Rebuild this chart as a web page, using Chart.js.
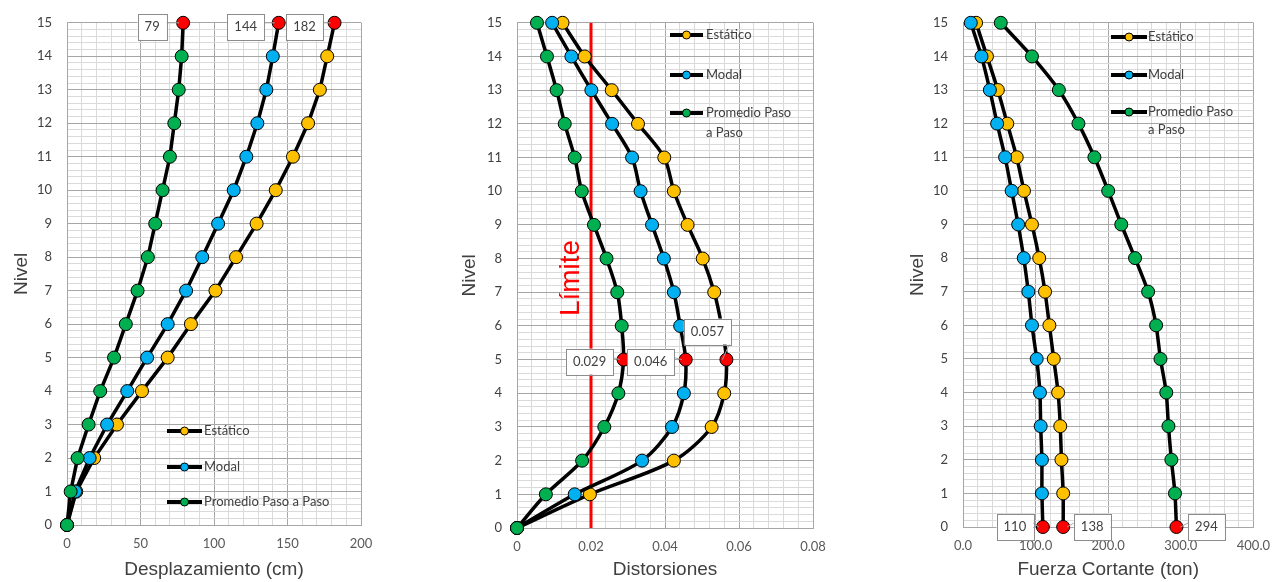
<!DOCTYPE html>
<html>
<head>
<meta charset="utf-8">
<script src="https://cdn.jsdelivr.net/npm/chart.js@4.4.1/dist/chart.umd.min.js"></script>
<style>
  html, body { margin: 0; padding: 0; background: #fff; }
  body { width: 1281px; height: 582px; position: relative; overflow: hidden; }
  canvas { position: absolute; top: 0; }
</style>
</head>
<body>
<canvas id="chart-desplazamiento" width="440" height="582" style="left:0px"></canvas>
<canvas id="chart-distorsiones" width="440" height="582" style="left:440px"></canvas>
<canvas id="chart-cortante" width="401" height="582" style="left:880px"></canvas>
<script>
// Niveles (eje vertical)
const niveles = [0, 1, 2, 3, 4, 5, 6, 7, 8, 9, 10, 11, 12, 13, 14, 15];
const series = ['Estático', 'Modal', 'Promedio Paso a Paso'];

// Desplazamiento (cm), nivel 0 -> 15
const despEstatico = [0, 6.3, 18.5, 34, 51, 68.5, 84.3, 101, 115, 129, 142, 153.7, 164, 172, 177, 182];
const despModal = [0, 5.6, 15.4, 27.3, 41, 54.5, 68.5, 81, 92, 102.8, 113.4, 122, 129.5, 135.6, 140, 144];
const despPromedio = [0, 2.5, 7.2, 14.7, 22.6, 32, 40, 48, 55, 60, 65, 70, 73, 76, 78, 79];

// Distorsiones, nivel 0 -> 15
const distEstatico = [0, 0.0197, 0.0424, 0.0526, 0.056, 0.0566, 0.0553, 0.0533, 0.0502, 0.0461, 0.0424, 0.0398, 0.0327, 0.0256, 0.0183, 0.0123];
const distModal = [0, 0.0156, 0.0338, 0.0419, 0.0451, 0.0456, 0.0441, 0.0424, 0.0397, 0.0365, 0.0334, 0.0311, 0.0257, 0.0201, 0.0147, 0.0095];
const distPromedio = [0, 0.0078, 0.0176, 0.0236, 0.0274, 0.0288, 0.0283, 0.0271, 0.0242, 0.0208, 0.0175, 0.0156, 0.0129, 0.0107, 0.0081, 0.0054];
const distLimite = 0.02;

// Fuerza cortante (ton), nivel 0 -> 15
const cortEstatico = [138, 138, 135.6, 134, 131, 125, 119, 113, 105, 95, 84, 74, 61, 48, 33, 18];
const cortModal = [110, 108.7, 108.7, 107, 106, 101.5, 95, 90, 83.7, 76, 67, 58, 47, 37, 25.5, 10.7];
const cortPromedio = [294, 292, 287, 283, 280, 272, 266, 255, 237, 218, 200, 181, 159, 132, 95, 52];

const colors = ['#FFC000', '#00B0F0', '#00B050'];
const RED = '#FF0000';
const CALIBRI = 'Lato, "Open Sans", sans-serif';
const ARIAL = '"Liberation Sans", Arial, sans-serif';

function isMultiple(v, m) {
    const r = v / m;
    return Math.abs(r - Math.round(r)) < 1e-6;
}

// order: la serie "Promedio" queda encima, como en Excel
function lineDataset(label, values, color, redIndex, tension, order) {
    return {
        label: label,
        data: values.map((v, i) => ({ x: v, y: niveles[i] })),
        showLine: true,
        clip: false,
        borderColor: '#000',
        borderWidth: 3.5,
        tension: tension,
        pointRadius: 6.5,
        pointHoverRadius: 6.5,
        pointBorderColor: '#000',
        pointBorderWidth: 1,
        pointBackgroundColor: values.map((v, i) => i === redIndex ? RED : color),
        order: order
    };
}

function scales(o) {
    return {
        x: {
            type: 'linear',
            min: o.xMin,
            max: o.xMax,
            afterFit: s => { s.height = o.xHeight; },
            border: { color: '#a6a6a6' },
            grid: {
                drawTicks: false,
                color: c => isMultiple(c.tick.value, o.xMajor) ? '#a6a6a6' : '#dadada'
            },
            ticks: {
                stepSize: o.xStep,
                autoSkip: false,
                maxRotation: 0,
                padding: 11,
                color: '#595959',
                font: { family: CALIBRI, size: 13 },
                callback: v => isMultiple(v, o.xMajor) ? o.xFormat(v) : ''
            },
            title: {
                display: true,
                text: o.xTitle,
                color: '#404040',
                font: { family: ARIAL, size: 19 },
                padding: { top: 0, bottom: 1 }
            }
        },
        y: {
            type: 'linear',
            min: 0,
            max: 15,
            afterFit: s => { s.width = o.yWidth; },
            border: { color: '#a6a6a6' },
            grid: {
                drawTicks: false,
                color: c => isMultiple(c.tick.value, 1) ? '#a6a6a6' : '#dadada'
            },
            ticks: {
                stepSize: 0.2,
                autoSkip: false,
                padding: 15,
                color: '#404040',
                font: { family: CALIBRI, size: 13 },
                callback: v => isMultiple(v, 1) ? String(Math.round(v)) : ''
            },
            title: {
                display: true,
                text: 'Nivel',
                color: '#404040',
                font: { family: ARIAL, size: 19 },
                padding: { top: o.yTitlePad, bottom: 0 }
            }
        }
    };
}

// leyenda interna, etiquetas de datos y texto "Límite"
const overlayPlugin = {
    id: 'overlay',
    afterDatasetsDraw(chart, args, opts) {
        const ctx = chart.ctx;
        ctx.save();

        if (opts.limite) {
            ctx.save();
            ctx.translate(opts.limite.x, opts.limite.y);
            ctx.rotate(-Math.PI / 2);
            ctx.fillStyle = RED;
            ctx.font = '28px ' + ARIAL;
            ctx.textAlign = 'center';
            ctx.textBaseline = 'middle';
            ctx.fillText('Límite', 0, 0);
            ctx.restore();
        }

        // legend
        const lg = opts.legend;
        ctx.font = '13px ' + CALIBRI;
        ctx.textBaseline = 'middle';
        ctx.textAlign = 'left';
        series.forEach((name, i) => {
            const y = lg.y[i];
            ctx.strokeStyle = '#000';
            ctx.lineWidth = 4;
            ctx.beginPath();
            ctx.moveTo(lg.x1, y);
            ctx.lineTo(lg.x2, y);
            ctx.stroke();
            ctx.beginPath();
            ctx.arc((lg.x1 + lg.x2) / 2, y, 4, 0, Math.PI * 2);
            ctx.fillStyle = colors[i];
            ctx.fill();
            ctx.lineWidth = 1;
            ctx.stroke();
            ctx.fillStyle = '#404040';
            const lines = lg.wrap && i === 2 ? ['Promedio Paso', 'a Paso'] : [name];
            lines.forEach((t, k) => ctx.fillText(t, lg.tx, y + k * lg.lineGap));
        });

        // data labels
        opts.labels.forEach(l => {
            const el = chart.getDatasetMeta(l.ds).data[l.idx];
            const val = chart.data.datasets[l.ds].data[l.idx].x;
            const text = l.format(val);
            const tw = ctx.measureText(text).width;
            const w = tw + 14, h = 26;
            const cx = el.x + l.dx, cy = el.y + l.dy;
            const ex = el.x > cx ? cx + w / 2 : cx - w / 2;
            ctx.strokeStyle = '#a6a6a6';
            ctx.lineWidth = 1;
            ctx.beginPath();
            ctx.moveTo(ex, cy - (l.dy < -10 ? -h / 2 + 4 : 4));
            ctx.lineTo(el.x - (el.x > cx ? 4 : -4), el.y);
            ctx.stroke();
            ctx.fillStyle = '#fff';
            ctx.fillRect(cx - w / 2, cy - h / 2, w, h);
            ctx.strokeStyle = '#8c8c8c';
            ctx.strokeRect(Math.round(cx - w / 2) + 0.5, Math.round(cy - h / 2) + 0.5, Math.round(w), h);
            ctx.fillStyle = '#404040';
            ctx.textAlign = 'center';
            ctx.fillText(text, cx, cy);
        });
        ctx.restore();
    }
};

function baseOptions(o, overlay) {
    return {
        responsive: false,
        animation: false,
        layout: { padding: { top: o.top, right: o.right, left: 0, bottom: 0 } },
        plugins: {
            legend: { display: false },
            tooltip: { enabled: false },
            overlay: overlay
        },
        scales: scales(o)
    };
}

function desplazamientoChart() {
    const fmt = v => String(Math.round(v));
    return {
        type: 'scatter',
        data: {
            datasets: [
                lineDataset(series[0], despEstatico, colors[0], 15, 0, 3),
                lineDataset(series[1], despModal, colors[1], 15, 0, 2),
                lineDataset(series[2], despPromedio, colors[2], 15, 0, 1)
            ]
        },
        options: baseOptions(
            { top: 22, right: 79, xMin: 0, xMax: 200, xStep: 10, xMajor: 50, xHeight: 57, yWidth: 67, yTitlePad: 10,
              xTitle: 'Desplazamiento (cm)', xFormat: v => String(Math.round(v)) },
            {
                legend: { x1: 167, x2: 202, tx: 204, y: [431, 467, 502], wrap: false, lineGap: 19 },
                labels: [
                    { ds: 0, idx: 15, dx: -30, dy: 4, format: fmt },
                    { ds: 1, idx: 15, dx: -33, dy: 4, format: fmt },
                    { ds: 2, idx: 15, dx: -31, dy: 4, format: fmt }
                ]
            }
        ),
        plugins: [overlayPlugin]
    };
}

function distorsionesChart() {
    const fmt = v => v.toFixed(3);
    const limite = {
        label: 'Límite',
        data: [{ x: distLimite, y: 0 }, { x: distLimite, y: 15 }],
        showLine: true,
        borderColor: RED,
        borderWidth: 3,
        pointRadius: 0,
        order: 5
    };
    return {
        type: 'scatter',
        data: {
            datasets: [
                lineDataset(series[0], distEstatico, colors[0], 5, 0.3, 3),
                lineDataset(series[1], distModal, colors[1], 5, 0.3, 2),
                lineDataset(series[2], distPromedio, colors[2], 5, 0.3, 1),
                limite
            ]
        },
        options: baseOptions(
            { top: 21, right: 67, xMin: 0, xMax: 0.08, xStep: 0.004, xMajor: 0.02, xHeight: 54, yWidth: 77, yTitlePad: 18,
              xTitle: 'Distorsiones', xFormat: v => v === 0 ? '0' : String(+v.toFixed(2)) },
            {
                limite: { x: 131, y: 278 },
                legend: { x1: 230, x2: 263, tx: 266, y: [35, 75, 113], wrap: true, lineGap: 20 },
                labels: [
                    { ds: 0, idx: 5, dx: -19, dy: -28, format: fmt },
                    { ds: 1, idx: 5, dx: -35, dy: 2, format: fmt },
                    { ds: 2, idx: 5, dx: -34, dy: 2, format: fmt }
                ]
            }
        ),
        plugins: [overlayPlugin]
    };
}

function cortanteChart() {
    const fmt = v => String(Math.round(v));
    return {
        type: 'scatter',
        data: {
            datasets: [
                lineDataset(series[0], cortEstatico, colors[0], 0, 0.2, 3),
                lineDataset(series[1], cortModal, colors[1], 0, 0.2, 2),
                lineDataset(series[2], cortPromedio, colors[2], 0, 0.2, 1)
            ]
        },
        options: baseOptions(
            { top: 22, right: 20, xMin: 0, xMax: 400, xStep: 20, xMajor: 100, xHeight: 55, yWidth: 83, yTitlePad: 26,
              xTitle: 'Fuerza Cortante (ton)', xFormat: v => v.toFixed(1) },
            {
                legend: { x1: 231, x2: 267, tx: 268, y: [37, 75, 112], wrap: true, lineGap: 18 },
                labels: [
                    { ds: 0, idx: 0, dx: 29, dy: 0, format: fmt },
                    { ds: 1, idx: 0, dx: -28, dy: 0, format: fmt },
                    { ds: 2, idx: 0, dx: 30, dy: 0, format: fmt }
                ]
            }
        ),
        plugins: [overlayPlugin]
    };
}

const ctxDesplazamiento = document.getElementById('chart-desplazamiento');
new Chart(ctxDesplazamiento, desplazamientoChart());

const ctxDistorsiones = document.getElementById('chart-distorsiones');
new Chart(ctxDistorsiones, distorsionesChart());

const ctxCortante = document.getElementById('chart-cortante');
new Chart(ctxCortante, cortanteChart());
</script>
</body>
</html>
